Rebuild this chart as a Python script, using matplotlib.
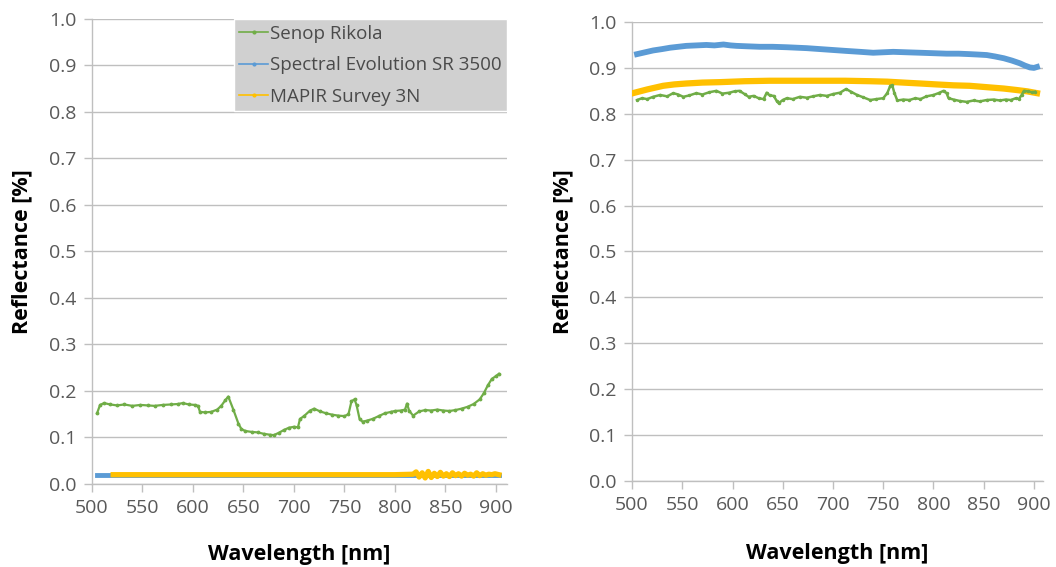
import numpy as np
import matplotlib
matplotlib.use("Agg")
import matplotlib.pyplot as plt
from matplotlib.lines import Line2D

plt.rcParams['font.family'] = ['Open Sans', 'DejaVu Sans']

# ---- left panel: dark target ----
wl_rik_l = [505, 508, 512, 518, 525, 532, 540, 548, 555, 562, 570, 578, 585, 590,
            596, 602, 605, 607, 612, 618, 624, 628, 632, 635, 640, 645, 648, 652,
            658, 664, 670, 676, 680, 685, 690, 695, 700, 704, 706, 710, 716, 720,
            726, 732, 738, 744, 750, 754, 757, 760, 762, 765, 768, 772, 778, 784,
            790, 796, 800, 806, 810, 812, 814, 818, 824, 830, 836, 842, 848, 854,
            860, 866, 872, 878, 884, 888, 892, 896, 900, 903]
rik_l = [0.152, 0.170, 0.174, 0.171, 0.169, 0.171, 0.168, 0.170, 0.169, 0.168,
         0.170, 0.171, 0.172, 0.174, 0.171, 0.170, 0.168, 0.155, 0.154, 0.155,
         0.160, 0.168, 0.180, 0.188, 0.160, 0.130, 0.118, 0.114, 0.112, 0.111,
         0.108, 0.106, 0.105, 0.110, 0.116, 0.121, 0.123, 0.122, 0.140, 0.146,
         0.158, 0.162, 0.156, 0.152, 0.149, 0.147, 0.146, 0.150, 0.178, 0.182,
         0.170, 0.140, 0.134, 0.136, 0.140, 0.146, 0.152, 0.155, 0.157, 0.158,
         0.160, 0.173, 0.158, 0.147, 0.156, 0.159, 0.158, 0.160, 0.158, 0.157,
         0.159, 0.162, 0.166, 0.172, 0.182, 0.195, 0.212, 0.226, 0.232, 0.237]

wl_sr_l = [505, 510, 515, 520, 525, 600, 700, 800, 903]
sr_l = [0.020, 0.020, 0.020, 0.020, 0.020, 0.020, 0.020, 0.020, 0.020]

wl_mapir_l = [521, 550, 600, 650, 700, 750, 800, 818, 821, 824, 827, 830, 833,
              836, 839, 842, 845, 848, 851, 854, 857, 860, 863, 866, 869, 872,
              875, 878, 881, 884, 887, 890, 893, 896, 899, 903]
mapir_l = [0.020, 0.020, 0.020, 0.020, 0.020, 0.020, 0.020, 0.021, 0.026, 0.015,
           0.024, 0.013, 0.027, 0.014, 0.023, 0.016, 0.025, 0.017, 0.022, 0.016,
           0.024, 0.018, 0.022, 0.017, 0.023, 0.019, 0.021, 0.017, 0.024, 0.018,
           0.022, 0.019, 0.021, 0.020, 0.022, 0.020]

# ---- right panel: white reference ----
wl_rik_r = [505, 510, 515, 521, 528, 535, 541, 546, 551, 557, 564, 570, 577, 584,
            590, 597, 602, 607, 612, 616, 621, 626, 631, 634, 637, 641, 644, 646,
            650, 654, 660, 667, 674, 680, 687, 694, 700, 707, 713, 718, 724, 730,
            737, 743, 750, 754, 757, 759, 761, 764, 770, 776, 782, 787, 793, 800,
            805, 810, 813, 815, 820, 826, 833, 840, 846, 853, 860, 866, 872, 877,
            882, 885, 888, 890, 894, 898, 901]
rik_r = [0.830, 0.834, 0.832, 0.837, 0.841, 0.838, 0.845, 0.842, 0.837, 0.840,
         0.845, 0.842, 0.847, 0.850, 0.844, 0.846, 0.849, 0.850, 0.843, 0.837,
         0.839, 0.834, 0.832, 0.846, 0.840, 0.839, 0.828, 0.823, 0.830, 0.834,
         0.832, 0.837, 0.835, 0.838, 0.841, 0.839, 0.843, 0.846, 0.854, 0.848,
         0.841, 0.836, 0.830, 0.832, 0.834, 0.845, 0.861, 0.862, 0.846, 0.829,
         0.831, 0.830, 0.834, 0.832, 0.838, 0.841, 0.845, 0.850, 0.845, 0.834,
         0.831, 0.828, 0.826, 0.829, 0.827, 0.830, 0.831, 0.829, 0.831, 0.830,
         0.834, 0.832, 0.842, 0.850, 0.849, 0.847, 0.848]

wl_sr_r = [505, 513, 521, 530, 538, 546, 554, 564, 574, 582, 591, 598, 604, 615,
           627, 640, 654, 664, 674, 687, 700, 713, 727, 740, 750, 760, 773, 787,
           800, 813, 825, 836, 845, 853, 861, 870, 878, 886, 891, 896, 900, 903]
sr_r = [0.930, 0.934, 0.938, 0.941, 0.944, 0.946, 0.948, 0.949, 0.950, 0.949,
        0.951, 0.949, 0.948, 0.947, 0.946, 0.946, 0.945, 0.944, 0.943, 0.941,
        0.939, 0.937, 0.935, 0.933, 0.934, 0.935, 0.934, 0.933, 0.932, 0.931,
        0.931, 0.930, 0.929, 0.928, 0.925, 0.921, 0.916, 0.910, 0.905, 0.901,
        0.900, 0.902]

wl_mapir_r = [501, 508, 515, 523, 531, 542, 554, 570, 588, 612, 637, 662, 687,
              712, 737, 754, 770, 787, 803, 820, 836, 853, 870, 882, 893, 903]
mapir_r = [0.845, 0.849, 0.853, 0.857, 0.861, 0.864, 0.866, 0.868, 0.869, 0.871,
           0.872, 0.872, 0.872, 0.872, 0.871, 0.870, 0.868, 0.866, 0.864, 0.862,
           0.861, 0.858, 0.855, 0.852, 0.849, 0.845]

green = '#70AD47'
blue = '#5B9BD5'
yellow = '#FFC000'
grey = '#BFBFBF'

fig = plt.figure(figsize=(10.56, 5.67), dpi=100)
ax1 = fig.add_axes([0.0871, 0.1464, 0.3930, 0.8201])
ax2 = fig.add_axes([0.5985, 0.1517, 0.3892, 0.8095])


def style(ax, xmax, xlab_y):
    ax.set_xlim(500, xmax)
    ax.set_ylim(0, 1.0)
    ax.set_xticks(np.arange(500, 901, 50))
    ax.set_yticks(np.arange(0, 1.01, 0.1))
    ax.set_yticklabels(['%.1f' % v for v in np.arange(0, 1.01, 0.1)])
    ax.grid(axis='y', color=grey, linewidth=1.0)
    ax.set_axisbelow(True)
    for s in ['top', 'right']:
        ax.spines[s].set_visible(False)
    for s in ['left', 'bottom']:
        ax.spines[s].set_color(grey)
        ax.spines[s].set_linewidth(1.0)
    ax.tick_params(axis='both', direction='out', length=6, width=1.0,
                   color=grey, labelsize=14, labelcolor='#595959', pad=5)
    ax.set_xlabel('Wavelength [nm]', fontsize=15.5, fontweight='bold')
    ax.set_ylabel('Reflectance [%]', fontsize=15.5, fontweight='bold')
    ax.xaxis.set_label_coords(0.5, xlab_y)
    ax.yaxis.set_label_coords(-0.143, 0.5)


style(ax1, 911, -0.128)
style(ax2, 909, -0.136)

ax1.plot(wl_rik_l, rik_l, color=green, lw=1.6, marker='.', ms=3.5,
         label='Senop Rikola', zorder=4)
ax1.plot(wl_sr_l, sr_l, color=blue, lw=3.5,
         label='Spectral Evolution SR 3500', zorder=3)
ax1.plot(wl_mapir_l, mapir_l, color=yellow, lw=3.8,
         label='MAPIR Survey 3N', zorder=4)

ax2.plot(wl_sr_r, sr_r, color=blue, lw=4.2, zorder=3)
ax2.plot(wl_mapir_r, mapir_r, color=yellow, lw=4.5, zorder=3)
ax2.plot(wl_rik_r, rik_r, color=green, lw=1.8, marker='.', ms=3, zorder=4)

# legend: thin line sample with a dot, grey box
h, l = ax1.get_legend_handles_labels()
handles = [Line2D([], [], color=c, lw=1.2, marker='.', ms=4) for c in (green, blue, yellow)]
leg = ax1.legend(handles, l, loc='upper right', bbox_to_anchor=(1.0, 1.0),
                 frameon=True, fancybox=False, fontsize=13.5, handlelength=1.55,
                 handletextpad=0.08, borderpad=0.3, labelspacing=0.72,
                 borderaxespad=0.0, labelcolor='#4A4A4A')
leg.get_frame().set_facecolor('#D0D0D0')
leg.get_frame().set_edgecolor('white')
leg.get_frame().set_alpha(1.0)

fig.savefig('out.png', dpi=100)
